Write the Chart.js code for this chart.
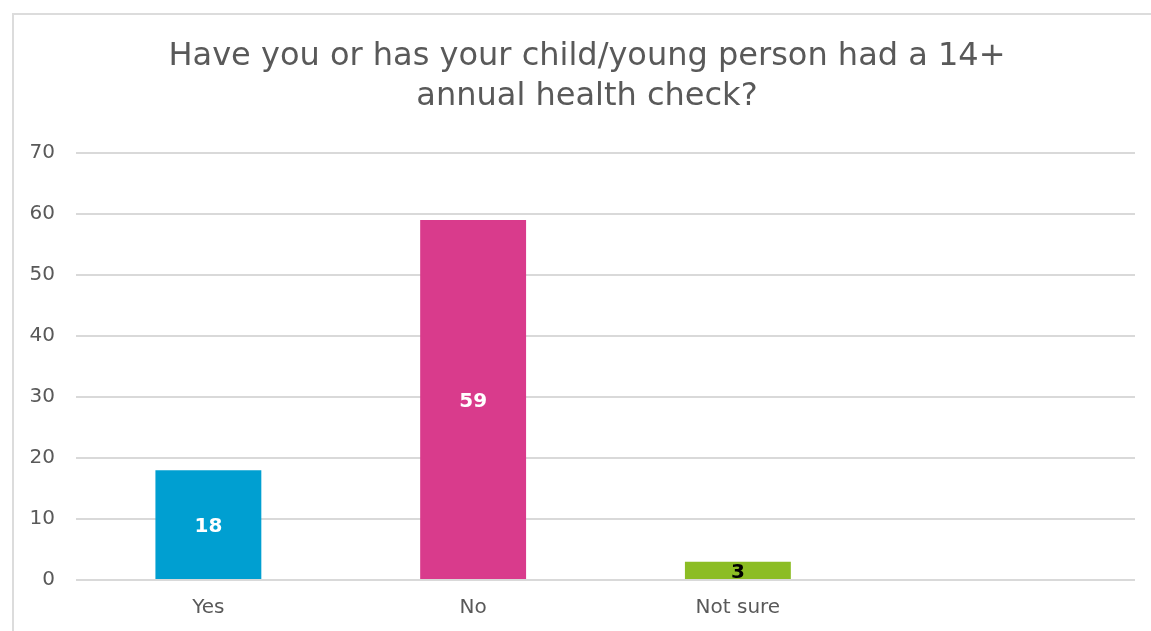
<!DOCTYPE html>
<html>
<head>
<meta charset="utf-8">
<title>14+ annual health check</title>
<script src="https://cdn.jsdelivr.net/npm/chart.js@4/dist/chart.umd.min.js"></script>
<style>
  html, body { margin: 0; padding: 0; background: #fff; }
  body { width: 1151px; height: 631px; overflow: hidden; position: relative; }
  .frame {
    position: absolute; left: 12px; top: 13px; width: 1200px; height: 700px;
    border: 2px solid #dcdcdc; box-sizing: border-box;
  }
  #healthCheckChart { position: absolute; left: 0; top: 0; }
</style>
</head>
<body>
<div class="frame"></div>
<canvas id="healthCheckChart" width="1151" height="631"></canvas>
<script>
// Survey answers (last slot is an empty category)
const categories = ['Yes', 'No', 'Not sure', ''];
const responses = [18, 59, 3, null];
const yTicks = [0, 10, 20, 30, 40, 50, 60, 70];

const barColors = ['#009fd1', '#d93b8c', '#8cbd24', '#ffffff'];
const labelColors = ['#ffffff', '#ffffff', '#000000', '#000000'];
const FONT = "'DejaVu Sans', sans-serif";

// Draws each bar's value in the middle of the bar
const barValueLabels = {
    id: 'barValueLabels',
    afterDatasetsDraw(chart) {
        const ctx = chart.ctx;
        const meta = chart.getDatasetMeta(0);
        ctx.save();
        ctx.font = 'bold 20px ' + FONT;
        ctx.textAlign = 'center';
        ctx.textBaseline = 'middle';
        meta.data.forEach((bar, i) => {
            const value = responses[i];
            if (value === null) return;
            const props = bar.getProps(['x', 'y', 'base'], true);
            ctx.fillStyle = labelColors[i];
            ctx.fillText(String(value), props.x, (props.y + props.base) / 2 + 2);
        });
        ctx.restore();
    }
};

// Centre the title over the plot area rather than the whole canvas
const titleOverPlot = {
    id: 'titleOverPlot',
    afterLayout(chart) {
        if (chart.titleBlock) {
            chart.titleBlock.left = 39;
        }
    }
};

const ctx = document.getElementById('healthCheckChart').getContext('2d');

new Chart(ctx, {
    type: 'bar',
    data: {
        labels: categories,
        datasets: [{
            data: responses,
            backgroundColor: barColors,
            borderWidth: 0,
            barPercentage: 1,
            categoryPercentage: 0.4
        }]
    },
    options: {
        responsive: false,
        animation: false,
        layout: { padding: { left: 0, right: 16, top: 0, bottom: 0 } },
        plugins: {
            legend: { display: false },
            tooltip: { enabled: false },
            title: {
                display: true,
                text: ['Have you or has your child/young person had a 14+', 'annual health check?'],
                color: '#595959',
                font: { family: FONT, size: 32, weight: 'normal', lineHeight: 1.25 },
                padding: { top: 37, bottom: 36 }
            }
        },
        scales: {
            x: {
                grid: { display: false, drawTicks: false },
                border: { display: false },
                ticks: {
                    color: '#595959',
                    font: { family: FONT, size: 20 },
                    padding: 16
                },
                afterFit(scale) { scale.height = 51; }
            },
            y: {
                min: 0,
                max: 70,
                afterBuildTicks(scale) {
                    scale.ticks = yTicks.map(v => ({ value: v }));
                },
                grid: { color: '#d9d9d9', lineWidth: 2, drawTicks: false },
                border: { display: false },
                ticks: {
                    color: '#595959',
                    font: { family: FONT, size: 20 },
                    padding: 21
                },
                afterFit(scale) { scale.width = 76; }
            }
        }
    },
    plugins: [barValueLabels, titleOverPlot]
});
</script>
</body>
</html>
